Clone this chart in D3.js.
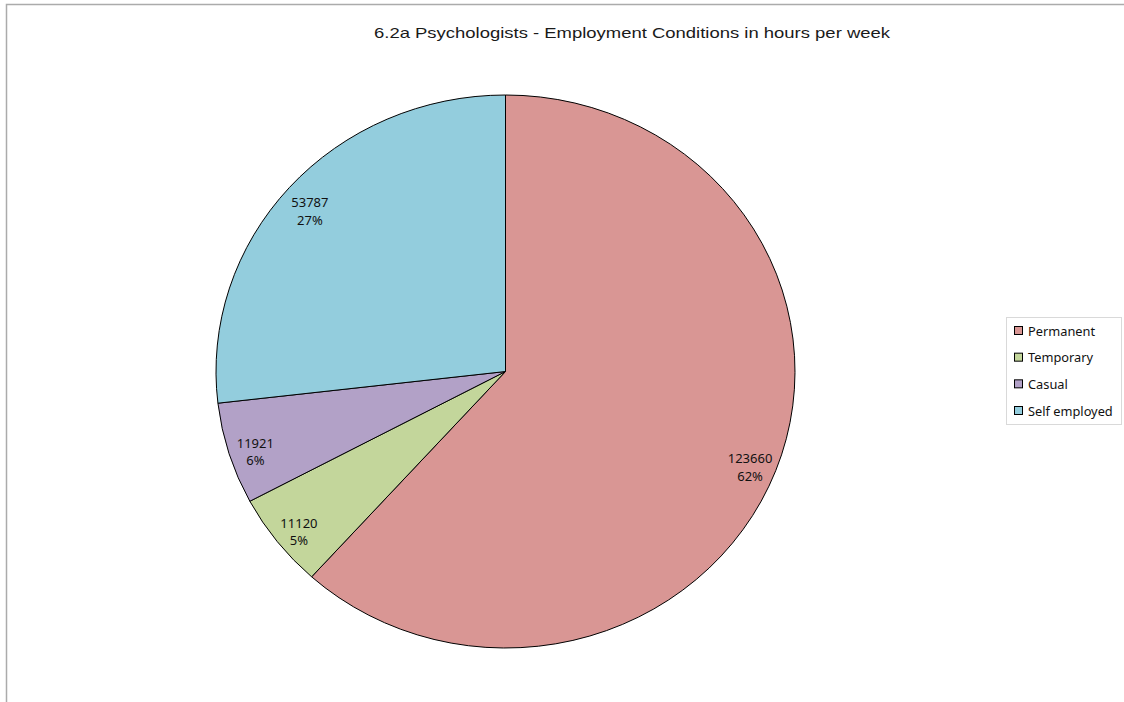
<!DOCTYPE html>
<html><head><meta charset="utf-8">
<script src="https://cdn.jsdelivr.net/npm/d3@7"></script>
<style>
html,body{margin:0;padding:0;background:#fff;}
svg{display:block;}
</style></head>
<body>
<svg id="chart" width="1124" height="702"></svg>
<script>
const title = "6.2a Psychologists - Employment Conditions in hours per week";
const categories = ["Permanent", "Temporary", "Casual", "Self employed"];
const values = [123660, 11120, 11921, 53787];
const pctLabels = ["62%", "5%", "6%", "27%"];
const colors = ["#D99694", "#C3D69B", "#B2A1C7", "#93CDDD"];

const svg = d3.select("#chart");

// outer frame
svg.append("path")
  .attr("d", "M6.5,702 L6.5,4.5 L1124,4.5")
  .attr("fill", "none").attr("stroke", "#ababab").attr("stroke-width", 1.5);

// title
svg.append("text")
  .attr("x", 632).attr("y", 38)
  .attr("text-anchor", "middle")
  .attr("font-family", "Liberation Sans, Arial, sans-serif")
  .attr("font-size", 15)
  .attr("textLength", 516).attr("lengthAdjust", "spacingAndGlyphs")
  .attr("fill", "#1a1a1a")
  .text(title);

const cx = 505.5, cy = 371.5, rx = 289.5, ry = 276.5;
const pie = d3.pie().sort(null).value(d => d)(values);
const arc = d3.arc().innerRadius(0).outerRadius(ry);

const g = svg.append("g").attr("transform", `translate(${cx},${cy}) scale(${rx/ry},1)`);
g.selectAll("path.slice").data(pie).enter().append("path")
  .attr("class", "slice")
  .attr("d", arc)
  .attr("fill", (d, i) => colors[i])
  .attr("stroke", "#000").attr("stroke-width", 1)
  .attr("vector-effect", "non-scaling-stroke");

// labels
const k = 0.905;
const lg = svg.append("g").attr("font-family", "Noto Sans, Open Sans, sans-serif").attr("font-size", 13).attr("fill", "#111");
pie.forEach((d, i) => {
  const a = (d.startAngle + d.endAngle) / 2;
  const x = cx + Math.sin(a) * rx * k;
  const y = cy - Math.cos(a) * ry * k + 4;
  const t = lg.append("text").attr("text-anchor", "middle").attr("x", x).attr("y", y);
  t.append("tspan").attr("x", x).attr("dy", "-0.15em").text(values[i]);
  t.append("tspan").attr("x", x).attr("dy", "1.35em").text(pctLabels[i]);
});

// legend
const leg = svg.append("g");
leg.append("rect").attr("x", 1006.5).attr("y", 317.5).attr("width", 115).attr("height", 107)
  .attr("fill", "#fff").attr("stroke", "#d9d9d9").attr("stroke-width", 1);
const ly = d3.scalePoint().domain(categories).range([331, 411]);
categories.forEach((c, i) => {
  leg.append("rect").attr("x", 1014.5).attr("y", ly(c) - 4.5).attr("width", 8).attr("height", 8)
    .attr("fill", colors[i]).attr("stroke", "#000").attr("stroke-width", 1);
  leg.append("text").attr("x", 1028).attr("y", ly(c) + 4.5)
    .attr("font-family", "Noto Sans, Open Sans, sans-serif").attr("font-size", 12.8).attr("fill", "#111")
    .text(c);
});
</script>
</body></html>
